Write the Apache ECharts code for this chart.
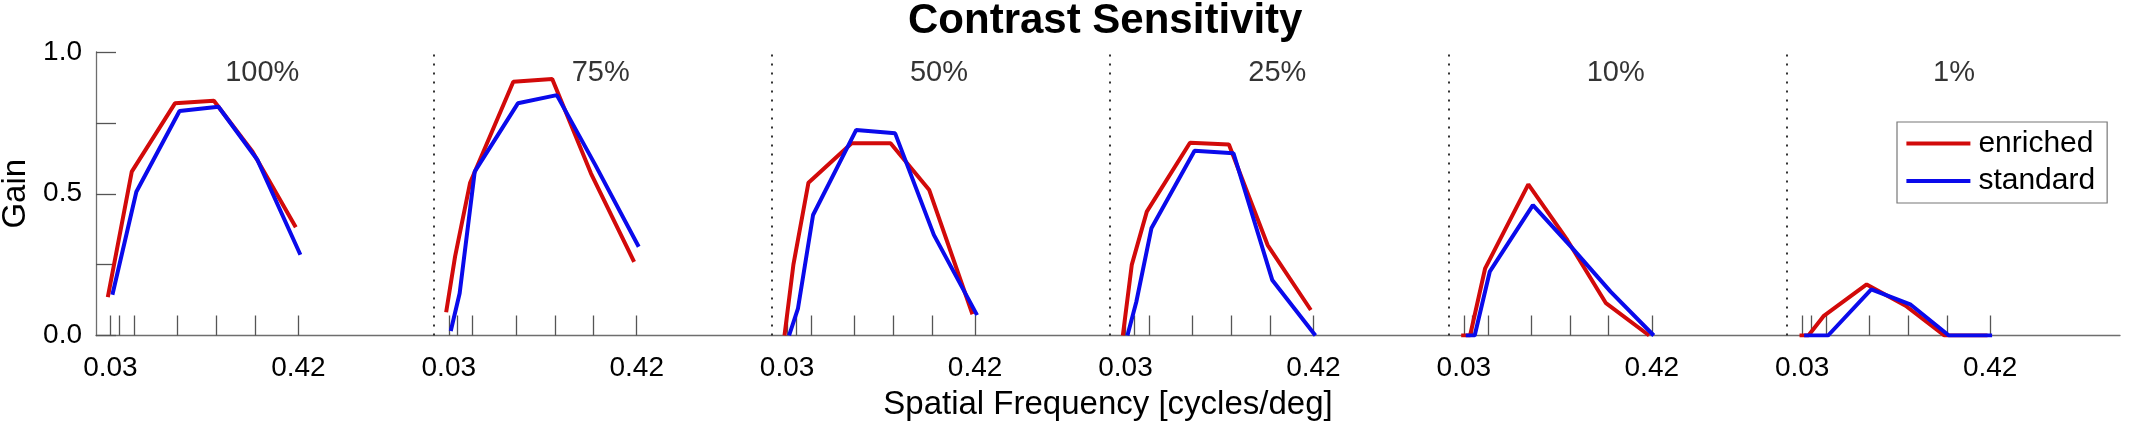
<!DOCTYPE html>
<html>
<head>
<meta charset="utf-8">
<title>Contrast Sensitivity</title>
<script src="https://cdn.jsdelivr.net/npm/echarts@6.0.0/dist/echarts.min.js"></script>
<style>
  html, body { margin: 0; padding: 0; background: #fff; }
  #graphics { width: 2131px; height: 428px; }
</style>
</head>
<body>
<div id="graphics"></div>
<script>
// data
const frequencies = [0.03, 0.034, 0.042, 0.077, 0.133, 0.229, 0.42];
const contrasts = ["100%", "75%", "50%", "25%", "10%", "1%"];
const seriesNames = ["enriched", "standard"];
const yTicks = [0, 0.25, 0.5, 0.75, 1.0];
const yLabels = [0, 0.5, 1.0];

// gain per contrast panel, one row per panel, one value per frequency
const enriched = [
    [0.135, null, 0.578, 0.819, 0.828, 0.648, 0.382],
    [0.082, 0.278, 0.539, 0.895, 0.905, 0.572, 0.260],
    [0.000, 0.250, 0.539, 0.678, 0.678, 0.513, 0.075],
    [0.000, 0.249, 0.437, 0.680, 0.674, 0.319, 0.090],
    [0.000, 0.000, 0.237, 0.533, 0.337, 0.114, 0.000],
    [0.000, 0.000, 0.068, 0.180, 0.105, 0.000, 0.000]
];
const standard = [
    [0.144, null, 0.507, 0.792, 0.807, 0.621, 0.285],
    [0.016, 0.149, 0.578, 0.819, 0.848, 0.600, 0.313],
    [0.000, 0.096, 0.425, 0.725, 0.713, 0.355, 0.072],
    [0.000, 0.119, 0.378, 0.652, 0.643, 0.196, 0.000],
    [0.000, 0.000, 0.225, 0.460, 0.310, 0.155, 0.000],
    [0.000, 0.000, 0.000, 0.163, 0.110, 0.000, 0.000]
];

// layout: x axis is log10 frequency, panels placed one after another
const FONT = "'Liberation Sans', Arial, Helvetica, sans-serif";
const PANEL_FIRST = 0.088;   // where the first panel starts (decades)
const PANEL_STEP = 2.063;    // distance between panels (decades)
const X_MAX = 12.341;
const RED_SHIFT = -0.016;    // small side shift, like the original plot
const BLUE_SHIFT = 0.012;
const COLORS = ["#d20a0a", "#0a0aeb"];

function panel_start(p) {
    return PANEL_FIRST + p * PANEL_STEP;
}

function freq_x(p, f) {
    return panel_start(p) + Math.log10(f / frequencies[0]);
}

function build_line(p, values, shift) {
    let out = [];
    for (let i = 0; i < frequencies.length; i++) {
        if (values[i] != null) {
            out.push([freq_x(p, frequencies[i]) + shift, values[i]]);
        }
    }
    return out;
}

// tick positions and the two labelled ticks per panel
let tickValues = [];
let labelValues = [];
let sepLines = [];
let panelLabels = [];
for (let p = 0; p < contrasts.length; p++) {
    for (let i = 0; i < frequencies.length; i++) {
        tickValues.push(freq_x(p, frequencies[i]));
    }
    labelValues.push(freq_x(p, frequencies[0]));
    labelValues.push(freq_x(p, frequencies[frequencies.length - 1]));
    if (p > 0) {
        sepLines.push({ xAxis: panel_start(p) - 0.094 });
    }
    panelLabels.push([freq_x(p, frequencies[frequencies.length - 1]) - 0.22, 0.926, contrasts[p]]);
}

function x_label(value) {
    let p = Math.floor((value - PANEL_FIRST + 0.5) / PANEL_STEP);
    let f = frequencies[0] * Math.pow(10, value - panel_start(p));
    return f.toFixed(2);
}

let series = [];
let groups = [enriched, standard];
let shifts = [RED_SHIFT, BLUE_SHIFT];
for (let g = 0; g < groups.length; g++) {
    for (let p = 0; p < contrasts.length; p++) {
        series.push({
            name: seriesNames[g],
            type: "line",
            data: build_line(p, groups[g][p], shifts[g]),
            symbol: "none",
            color: COLORS[g],
            lineStyle: { width: 4, color: COLORS[g] },
            z: 3 + g
        });
    }
}

// panel titles and dotted separators
series.push({
    name: "panels",
    type: "scatter",
    symbolSize: 0,
    data: panelLabels,
    silent: true,
    label: {
        show: true,
        position: "inside",
        formatter: function (d) { return d.value[2]; },
        color: "#000",
        fontFamily: FONT,
        fontSize: 29
    },
    markLine: {
        silent: true,
        symbol: ["none", "none"],
        label: { show: false },
        lineStyle: { type: [2, 7], color: "#333", width: 2 },
        data: sepLines
    }
});

var myChart = echarts.init(document.getElementById("graphics"));

var option = {
    animation: false,
    backgroundColor: "#fff",
    title: {
        text: "Contrast Sensitivity",
        left: 908,
        top: 0,
        padding: 0,
        textStyle: { fontFamily: FONT, fontSize: 42, fontWeight: "bold", color: "#000" }
    },
    legend: {
        data: [
            { name: "enriched", icon: "rect" },
            { name: "standard", icon: "rect" }
        ],
        orient: "vertical",
        left: 1897,
        top: 122,
        itemWidth: 64,
        itemHeight: 4,
        itemGap: 7.4,
        padding: [6.6, 12, 7, 9.4],
        borderColor: "#777",
        borderWidth: 1.2,
        backgroundColor: "#fff",
        selectedMode: false,
        textStyle: { fontFamily: FONT, fontSize: 30, color: "#000", lineHeight: 30, padding: [0, 0, 0, 3] }
    },
    grid: {
        left: 96,
        right: 11,
        top: 52,
        bottom: 92.5,
        outerBoundsMode: "none"
    },
    xAxis: {
        type: "value",
        min: 0,
        max: X_MAX,
        name: "Spatial Frequency [cycles/deg]",
        nameLocation: "middle",
        nameGap: 53,
        nameTextStyle: { fontFamily: FONT, fontSize: 33, color: "#000" },
        axisLine: { show: true, lineStyle: { color: "#6e6e6e", width: 1.3 } },
        axisTick: {
            show: true,
            inside: true,
            length: 20,
            customValues: tickValues,
            lineStyle: { color: "#555", width: 1.3 }
        },
        axisLabel: {
            customValues: labelValues,
            formatter: x_label,
            margin: 19,
            fontFamily: FONT,
            fontSize: 28,
            color: "#000"
        },
        splitLine: { show: false }
    },
    yAxis: {
        type: "value",
        min: 0,
        max: 1,
        interval: 0.25,
        name: "Gain",
        nameLocation: "middle",
        nameGap: 64,
        nameRotate: 90,
        nameTextStyle: { fontFamily: FONT, fontSize: 33, color: "#000" },
        axisLine: { show: true, lineStyle: { color: "#6e6e6e", width: 1.3 } },
        axisTick: {
            show: true,
            inside: true,
            length: 20,
            customValues: yTicks,
            lineStyle: { color: "#555", width: 1.3 }
        },
        axisLabel: {
            customValues: yLabels,
            formatter: function (v) { return v.toFixed(1); },
            margin: 14,
            fontFamily: FONT,
            fontSize: 28,
            color: "#000"
        },
        splitLine: { show: false }
    },
    series: series
};

myChart.setOption(option);
</script>
</body>
</html>
